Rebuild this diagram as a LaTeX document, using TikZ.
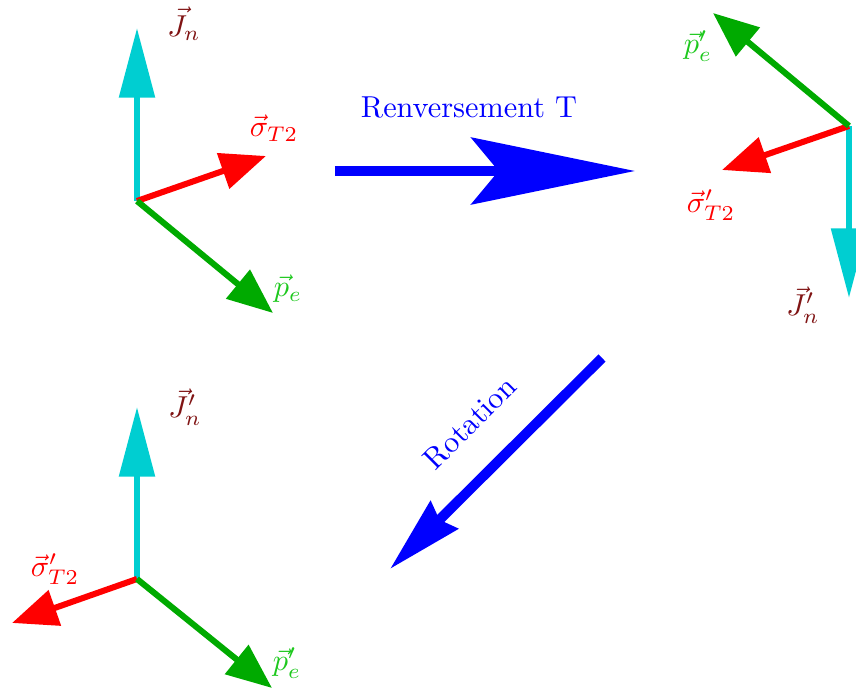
\documentclass[tikz,border=0pt]{standalone}
\usetikzlibrary{arrows.meta}
\definecolor{cyanv}{RGB}{0,206,209}
\definecolor{greenv}{RGB}{0,170,0}
\definecolor{greenl}{RGB}{30,200,30}
\definecolor{darkr}{RGB}{128,20,20}
\tikzset{
  vecJ/.style={draw=cyanv, line width=2pt, -{Triangle[length=23pt,width=11.5pt]}},
  vecS/.style={draw=red, line width=2pt, -{Triangle[length=15pt,width=12pt]}},
  vecP/.style={draw=greenv, line width=2pt, -{Triangle[length=15pt,width=12pt]}},
  labJ/.style={text=darkr, inner sep=0pt},
  labS/.style={text=red, inner sep=0pt},
  labP/.style={text=greenl, inner sep=0pt},
  bigarrow/.style={draw=blue, line width=3.3pt},
  biglab/.style={text=blue, inner sep=0pt}
}
\begin{document}
\begin{tikzpicture}[x=0.33pt,y=-0.33pt]
\useasboundingbox (0,0) rectangle (856,696);
% frame 1
\coordinate (o1) at (137,201);
\coordinate (j1) at (137,28);
\coordinate (s1) at (266,156);
\coordinate (p1) at (273,313);
\draw[vecJ] (o1) -- (j1);
\draw[vecS] (o1) -- (s1);
\draw[vecP] (o1) -- (p1);
\node[labJ] (lj1) at (184,24) {$\vec J_n$};
\node[labS] (ls1) at (274,128) {$\vec \sigma_{T2}$};
\node[labP] (lp1) at (288,289) {$\vec p_e$};
% frame 2
\coordinate (o2) at (849,126);
\coordinate (j2) at (849,298);
\coordinate (s2) at (722,170);
\coordinate (p2) at (713,13);
\draw[vecJ] (o2) -- (j2);
\draw[vecS] (o2) -- (s2);
\draw[vecP] (o2) -- (p2);
\node[labP] (lp2) at (698,46) {$\vec p'_e$};
\node[labS] (ls2) at (711,205) {$\vec \sigma'_{T2}$};
\node[labJ] (lj2) at (803,305) {$\vec J'_n$};
% frame 3
\coordinate (o3) at (137,579);
\coordinate (j3) at (137,407);
\coordinate (s3) at (12,623);
\coordinate (p3) at (272,688);
\draw[vecJ] (o3) -- (j3);
\draw[vecS] (o3) -- (s3);
\draw[vecP] (o3) -- (p3);
\node[labJ] (lj3) at (185,407) {$\vec J'_n$};
\node[labS] (ls3) at (55,569) {$\vec \sigma'_{T2}$};
\node[labP] (lp3) at (287,663) {$\vec p'_e$};
% transformation arrows
\coordinate (ta) at (335,171);
\coordinate (tb) at (635,171);
\draw[bigarrow, -{Stealth[length=54pt,width=22pt,inset=9pt]}] (ta) -- (tb);
\node[biglab] (lt) at (469,107) {Renversement T};
\coordinate (ra) at (602,358);
\coordinate (rb) at (390,569);
\draw[bigarrow, -{Stealth[length=25pt,width=12.5pt,inset=2pt]}] (ra) -- (rb);
\node[biglab, rotate=45] (lr) at (470,423) {Rotation};
\end{tikzpicture}
\end{document}
